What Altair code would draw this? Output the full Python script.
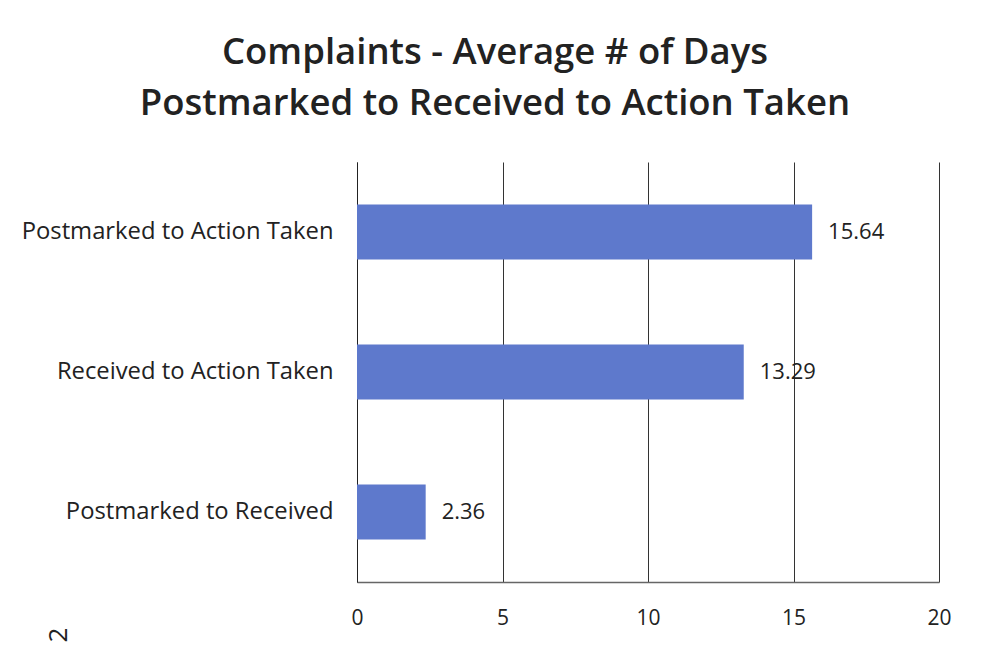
import altair as alt
import pandas as pd

categories = ["Postmarked to Action Taken", "Received to Action Taken", "Postmarked to Received"]
values = [15.64, 13.29, 2.36]
x_ticks = [0, 5, 10, 15, 20]
title_lines = ["Complaints - Average # of Days", "Postmarked to Received to Action Taken"]
page_note = ["2"]

df = pd.DataFrame({"category": categories, "value": values})

FONT = "Open Sans"
BAR = "#5E79CC"

base = alt.Chart(df).encode(
    y=alt.Y(
        "category:N",
        sort=categories,
        scale=alt.Scale(paddingInner=0, paddingOuter=0),
        axis=alt.Axis(
            title=None,
            ticks=False,
            domain=True,
            domainColor="#222222",
            domainWidth=1,
            labelFont=FONT,
            labelFontSize=23.8,
            labelColor="#222222",
            labelPadding=24,
            labelLimit=400,
            grid=False,
        ),
    )
)

bars = base.mark_bar(color=BAR, size=55).encode(
    x=alt.X(
        "value:Q",
        scale=alt.Scale(domain=[0, 20], nice=False),
        axis=alt.Axis(
            title=None,
            values=x_ticks,
            ticks=False,
            grid=True,
            gridColor="#333333",
            gridWidth=1,
            gridOpacity=1,
            domain=True,
            domainColor="#666666",
            domainWidth=1.5,
            labelFont=FONT,
            labelFontSize=21,
            labelColor="#222222",
            labelPadding=25,
            labelFlush=False,
        ),
    )
)

labels = base.mark_text(
    align="left", baseline="middle", dx=16, font=FONT, fontSize=22, color="#222222"
).encode(
    x="value:Q",
    text=alt.Text("value:Q", format=".2f"),
)

note = alt.Chart(pd.DataFrame({"t": page_note})).mark_text(
    font=FONT, fontSize=26, color="#222222", angle=270, baseline="middle", align="center"
).encode(
    text="t:N",
    x=alt.value(-298),
    y=alt.value(473),
)

chart = (
    alt.layer(bars, labels, note)
    .properties(
        width=582,
        height=420,
        padding={"left": 349, "top": 154, "right": 35, "bottom": 60},
        autosize=alt.AutoSizeParams(type="none"),
        title=alt.TitleParams(
            text=title_lines,
            font=FONT,
            fontSize=36.5,
            fontWeight=600,
            color="#222222",
            anchor="middle",
            lineHeight=51,
            offset=40,
            dx=-153,
        ),
        background="white",
    )
    .configure_view(stroke=None)
)

chart.save("out.html", embed_options={"renderer": "svg", "actions": False})
